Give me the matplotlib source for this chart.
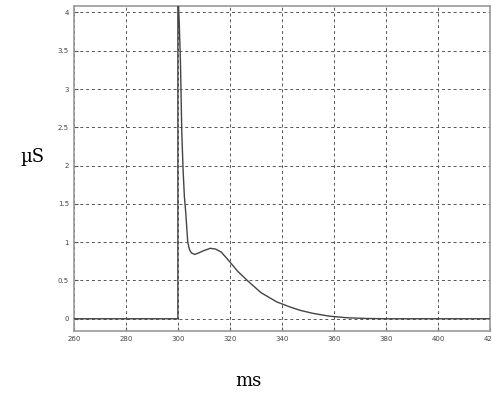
import matplotlib
matplotlib.use("Agg")
import matplotlib.pyplot as plt

# conductance trace
time_ms = [260, 300, 300, 300.5, 301, 301.5, 302, 302.5, 303, 303.8, 304.5,
           305.2, 306.5, 308, 310, 312.5, 314.5, 316.7, 319.8, 323, 327,
           332, 338, 343, 347, 352, 358, 365, 372, 380, 420]
conductance_uS = [0, 0, 4.3, 3.9, 3.35, 2.45, 1.95, 1.6, 1.4, 1.0, 0.9,
                  0.86, 0.84, 0.86, 0.89, 0.92, 0.91, 0.87, 0.75, 0.62, 0.49,
                  0.34, 0.22, 0.155, 0.11, 0.07, 0.035, 0.013, 0.004, 0, 0]

x_ticks = [260, 280, 300, 320, 340, 360, 380, 400, 420]
y_ticks = [0, 0.5, 1, 1.5, 2, 2.5, 3, 3.5, 4]
y_tick_labels = ['0', '0.5', '1', '1.5', '2', '2.5', '3', '3.5', '4']


def main():
    fig = plt.figure(figsize=(4.92, 3.95), dpi=100)
    ax = fig.add_axes([0.150, 0.162, 0.846, 0.824])

    ax.plot(time_ms, conductance_uS, color='#444444', linewidth=1.0, zorder=3)

    ax.set_xlim(260, 420)
    ax.set_ylim(-0.16, 4.09)
    ax.set_xticks(x_ticks)
    ax.set_yticks(y_ticks)
    ax.set_yticklabels(y_tick_labels)

    ax.grid(True, color='#555555', linestyle=(0, (3, 3)), linewidth=0.7)
    ax.tick_params(direction='in', length=3, labelsize=5, colors='#555555',
                   labelcolor='#444444')
    for side in ax.spines.values():
        side.set_color('#999999')
        side.set_linewidth(1.2)

    ax.set_ylabel('µS', family='DejaVu Serif', fontsize=13, rotation=0,
                  va='center', ha='center')
    ax.yaxis.set_label_coords(-0.1, 0.535)
    ax.set_xlabel('ms', family='DejaVu Serif', fontsize=13, va='center')
    ax.xaxis.set_label_coords(0.42, -0.155)

    fig.savefig('out.png', dpi=100)


if __name__ == "__main__":
    main()
